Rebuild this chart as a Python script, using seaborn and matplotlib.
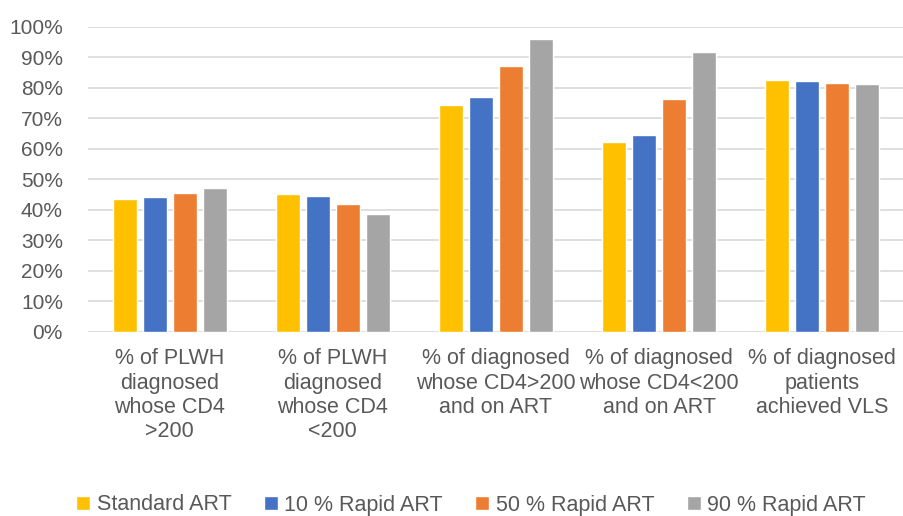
import pandas as pd
import numpy as np
import matplotlib
matplotlib.use("Agg")
import matplotlib.pyplot as plt
import seaborn as sns
from matplotlib.ticker import PercentFormatter

# ===== 数据 =====
categories = [
    "% of PLWH\ndiagnosed\nwhose CD4\n>200",
    "% of PLWH\ndiagnosed\nwhose CD4\n<200",
    "% of diagnosed\nwhose CD4>200\nand on ART",
    "% of diagnosed\nwhose CD4<200\nand on ART",
    "% of diagnosed\npatients\nachieved VLS",
]
series_names = ["Standard ART", "10 % Rapid ART", "50 % Rapid ART", "90 % Rapid ART"]
standard_art = [0.436, 0.452, 0.744, 0.621, 0.824]
rapid_10 = [0.443, 0.446, 0.770, 0.644, 0.822]
rapid_50 = [0.456, 0.420, 0.872, 0.763, 0.816]
rapid_90 = [0.470, 0.387, 0.961, 0.916, 0.812]
colors = ["#FFC000", "#4472C4", "#ED7D31", "#A5A5A5"]

df = pd.DataFrame({
    "category": categories * 4,
    "series": np.repeat(series_names, len(categories)),
    "value": standard_art + rapid_10 + rapid_50 + rapid_90,
})

sns.set_theme(style="white")
plt.rcParams['font.family'] = ['Liberation Sans', 'DejaVu Sans']
text_color = "#595959"

fig = plt.figure(figsize=(9.04, 5.16), dpi=100)
ax = fig.add_axes([88 / 904, 1 - 331.7 / 516, 1 - 88 / 904, (331.7 - 26.7) / 516])

sns.barplot(data=df, x="category", y="value", hue="series", palette=colors,
            width=0.735, gap=0.2, saturation=1, ax=ax, legend=True)

ax.set_ylim(0, 1.0)
ax.set_xlim(-0.5, 4.5)
ax.set_yticks(np.arange(0, 1.01, 0.1))
ax.yaxis.set_major_formatter(PercentFormatter(1.0, decimals=0))
ax.yaxis.grid(True, color="#D9D9D9", linewidth=1.2)
ax.set_axisbelow(True)
for s in ax.spines.values():
    s.set_visible(False)
ax.set_xlabel("")
ax.set_ylabel("")
ax.tick_params(axis="y", length=0, pad=18, labelsize=15, labelcolor=text_color)
ax.tick_params(axis="x", length=0, pad=12, labelsize=15.5, labelcolor=text_color)
for lbl in ax.get_xticklabels():
    lbl.set_linespacing(1.2)

# 图例放在底部
handles, labels = ax.get_legend_handles_labels()
ax.get_legend().remove()
fig.legend(handles, labels, loc="center", bbox_to_anchor=(471 / 904, 1 - 505 / 516),
           ncol=4, frameon=False, fontsize=15.5, labelcolor=text_color,
           handlelength=0.65, handleheight=0.65, handletextpad=0.3, columnspacing=1.5)

fig.savefig("out.png", dpi=100)
